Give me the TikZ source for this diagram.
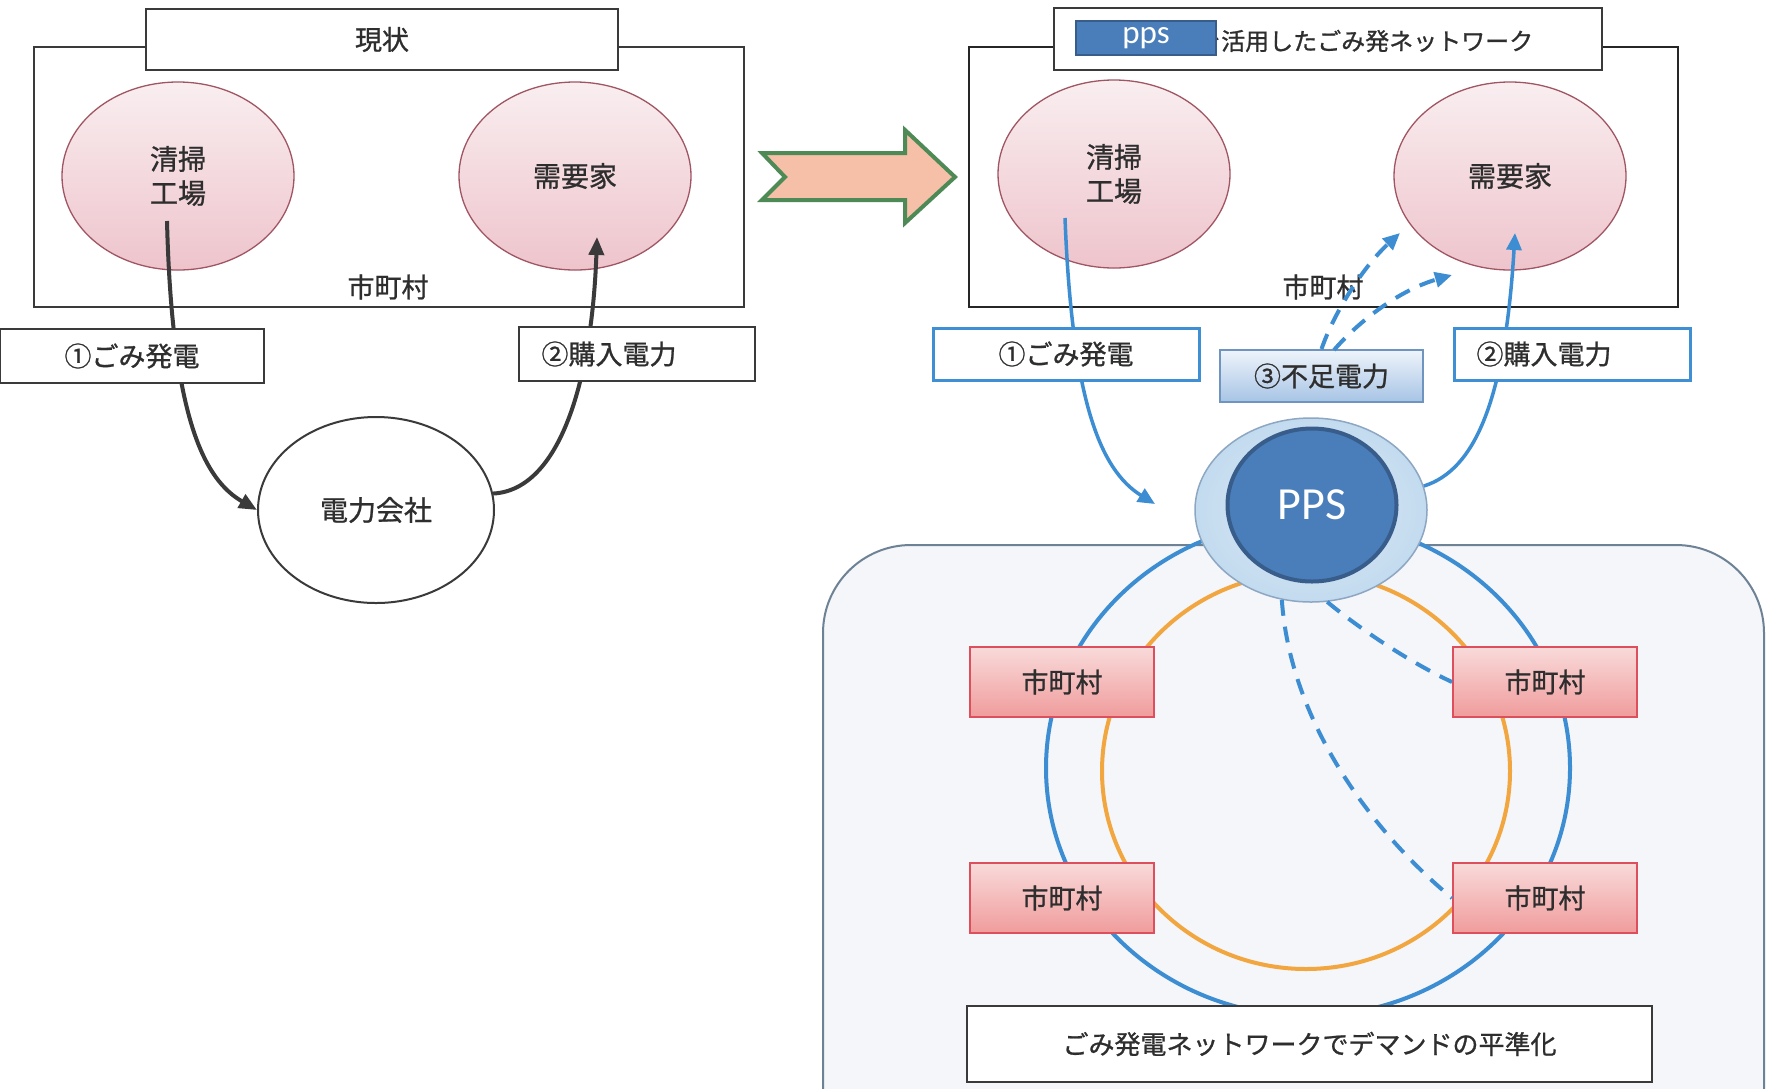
\documentclass[tikz,border=0pt]{standalone}
\usepackage{fontspec}
\setmainfont{Noto Sans CJK JP}[FakeBold=0.9]
\newfontfamily\calib{Carlito}
\usetikzlibrary{shapes.geometric,arrows.meta,shadings}
\definecolor{txt}{HTML}{2E2E2E}
\definecolor{lineblk}{HTML}{3A3A3A}
\definecolor{bgfill}{HTML}{F4F6F9}
\definecolor{bgline}{HTML}{6E8296}
\definecolor{ringblue}{HTML}{3C8DD2}
\definecolor{ringorange}{HTML}{F2A640}
\definecolor{redT}{HTML}{F9DADA}
\definecolor{redB}{HTML}{F09C9C}
\definecolor{redbd}{HTML}{DE4F5E}
\definecolor{ppsout}{HTML}{C3DBEF}
\definecolor{ppsoutin}{HTML}{DCEAF6}
\definecolor{ppsoutbd}{HTML}{8DA7C2}
\definecolor{ppsin}{HTML}{4A7EBB}
\definecolor{ppsinbd}{HTML}{385D8A}
\definecolor{pinkT}{HTML}{F9EEF0}
\definecolor{pinkB}{HTML}{EEC4CC}
\definecolor{pinkbd}{HTML}{A05563}
\definecolor{arrgreen}{HTML}{4E8A55}
\definecolor{arrfill}{HTML}{F6C0A8}
\definecolor{bT}{HTML}{EEF4FB}
\definecolor{bB}{HTML}{A7C4E5}
\definecolor{bbd}{HTML}{7094C0}
\definecolor{boxblue}{HTML}{3E8FD3}
\tikzset{
  jp/.style={font=\fontsize{27}{33}\selectfont, text=txt, inner sep=0pt},
  lframe/.style={draw=lineblk, line width=2pt},
  wbox/.style={draw=lineblk, fill=white, line width=2pt, inner sep=0pt},
  bbox/.style={draw=boxblue, fill=white, line width=3pt, inner sep=0pt},
  pinkell/.style={ellipse, draw=pinkbd, line width=1.3pt, top color=pinkT, bottom color=pinkB,
     inner sep=0pt, align=center, font=\fontsize{28}{34}\selectfont, text=txt},
  whiteell/.style={ellipse, draw=lineblk, line width=2pt, fill=white, inner sep=0pt,
     font=\fontsize{28}{34}\selectfont, text=txt},
  darrow/.style={draw=lineblk, line width=4pt, -{Triangle[length=18pt,width=15pt]}},
  barrow/.style={draw=ringblue, line width=3.5pt, -{Triangle[length=17pt,width=15pt]}},
  bdash/.style={draw=ringblue, line width=4pt, dash pattern=on 16pt off 11pt},
  redbox/.style={draw=redbd, line width=2pt, top color=redT, bottom color=redB, inner sep=0pt,
     minimum width=184pt, minimum height=70pt, font=\fontsize{27}{33}\selectfont, text=txt},
}
\begin{document}
\begin{tikzpicture}[x=1pt,y=-1pt]
\useasboundingbox (0,0) rectangle (1767,1088);
\clip (0,0) rectangle (1767,1088);
\fill[white] (0,0) rectangle (1767,1088);

% ---------------- left: current state ----------------
\draw[lframe] (34,47) rectangle (744,307);
\node[wbox, minimum width=472pt, minimum height=61pt, jp] (t1) at (382,39.5) {現状};
\node[pinkell, minimum width=232pt, minimum height=188pt] (f1) at (178,176) {清掃\\工場};
\node[pinkell, minimum width=232pt, minimum height=188pt] (d1) at (575,176) {需要家};
\node[jp] (v1) at (388,287) {市町村};
\node[whiteell, minimum width=236pt, minimum height=186pt] (pc) at (376,510) {電力会社};
\coordinate (a1s) at (167,221);
\coordinate (a2e) at (597,237);
\draw[darrow] (a1s) .. controls (172,420) and (205,480) .. (pc.west);
\draw[darrow] (pc.8) .. controls (560,490) and (592,380) .. (a2e);
\node[wbox, minimum width=264pt, minimum height=54pt] (g1) at (132,356) {};
\node[jp] (g1t) at (g1) {①ごみ発電};
\node[wbox, minimum width=236pt, minimum height=54pt] (g2) at (637,354) {};
\node[jp] (g2t) at (609,354) {②購入電力};

% ---------------- big arrow ----------------
\draw[draw=arrgreen, fill=arrfill, line width=4pt, line join=miter]
  (762,153) -- (905,153) -- (905,130) -- (955,177) -- (905,223) -- (905,200) -- (762,200) -- (785,177) -- cycle;

% ---------------- right: network ----------------
\draw[lframe, draw=black!85] (969,47) rectangle (1678,307);
\node[wbox, minimum width=548pt, minimum height=62pt] (t2) at (1328,39) {};
\node[jp, font=\fontsize{24}{28}\selectfont, anchor=west] (t2t) at (1197,41) {を活用したごみ発ネットワーク};
\node[draw=ppsinbd, line width=2pt, fill=ppsin, minimum width=140pt, minimum height=34pt, inner sep=0pt,
   text=white, font=\calib\fontsize{33}{36}\selectfont] (ppsl) at (1146,38) {pps};
\node[pinkell, minimum width=232pt, minimum height=188pt] (f2) at (1114,174) {清掃\\工場};
\node[pinkell, minimum width=232pt, minimum height=188pt] (d2) at (1510,176) {需要家};
\node[jp] (v2) at (1323,287) {市町村};

% background rounded panel
\draw[draw=bgline, line width=2pt, fill=bgfill, rounded corners=88pt] (823,545) rectangle (1764,1200);
% rings
\draw[draw=ringblue, line width=4pt] (1308,768) ellipse [x radius=262pt, y radius=248pt];
\draw[draw=ringorange, line width=4pt] (1306,771) ellipse [x radius=204pt, y radius=198pt];

% PPS
\node[ellipse, draw=ppsoutbd, line width=1.5pt, inner color=ppsoutin, outer color=ppsout,
   minimum width=232pt, minimum height=184pt, inner sep=0pt] (pps) at (1311,510) {};
\node[ellipse, draw=ppsinbd, line width=4pt, fill=ppsin, minimum width=169pt, minimum height=153pt,
   inner sep=0pt, text=white, font=\calib\fontsize{46}{50}\selectfont] (ppsc) at (1312,505) {PPS};

% municipalities
\node[redbox] (m1) at (1062,682) {市町村};
\node[redbox] (m2) at (1545,682) {市町村};
\node[redbox] (m3) at (1062,898) {市町村};
\node[redbox] (m4) at (1545,898) {市町村};

% dashed links
\draw[bdash] (pps.-80) .. controls (1355,625) and (1405,660) .. (m2.west);
\draw[bdash] (pps.-108) .. controls (1290,720) and (1370,830) .. (m4.west);

% bottom caption
\node[wbox, minimum width=685pt, minimum height=76pt, jp, font=\fontsize{26}{30}\selectfont] (cap) at (1309.5,1044) {ごみ発電ネットワークでデマンドの平準化};

% flows
\coordinate (b1s) at (1065,218);
\coordinate (b1e) at (1155,504);
\coordinate (b2e) at (1515,233);
\draw[barrow] (b1s) .. controls (1072,400) and (1100,470) .. (b1e);
\draw[barrow] (pps.12) .. controls (1475,470) and (1505,400) .. (b2e);

\node[draw=bbd, line width=2pt, top color=bT, bottom color=bB, minimum width=203pt, minimum height=52pt,
   inner sep=0pt, jp] (b3) at (1321.5,376) {③不足電力};
\coordinate (c1e) at (1400,233);
\coordinate (c2s) at (1334,350);
\coordinate (c2e) at (1452,275);
\draw[bdash, -{Triangle[length=17pt,width=15pt]}] (b3.north) .. controls (1335,310) and (1365,265) .. (c1e);
\draw[bdash, -{Triangle[length=17pt,width=15pt]}] (c2s) .. controls (1360,320) and (1400,290) .. (c2e);

\node[bbox, minimum width=266pt, minimum height=52pt] (h1) at (1066,354) {};
\node[jp] (h1t) at (h1) {①ごみ発電};
\node[bbox, minimum width=236pt, minimum height=52pt] (h2) at (1572,354) {};
\node[jp] (h2t) at (1544,354) {②購入電力};
\end{tikzpicture}
\end{document}
